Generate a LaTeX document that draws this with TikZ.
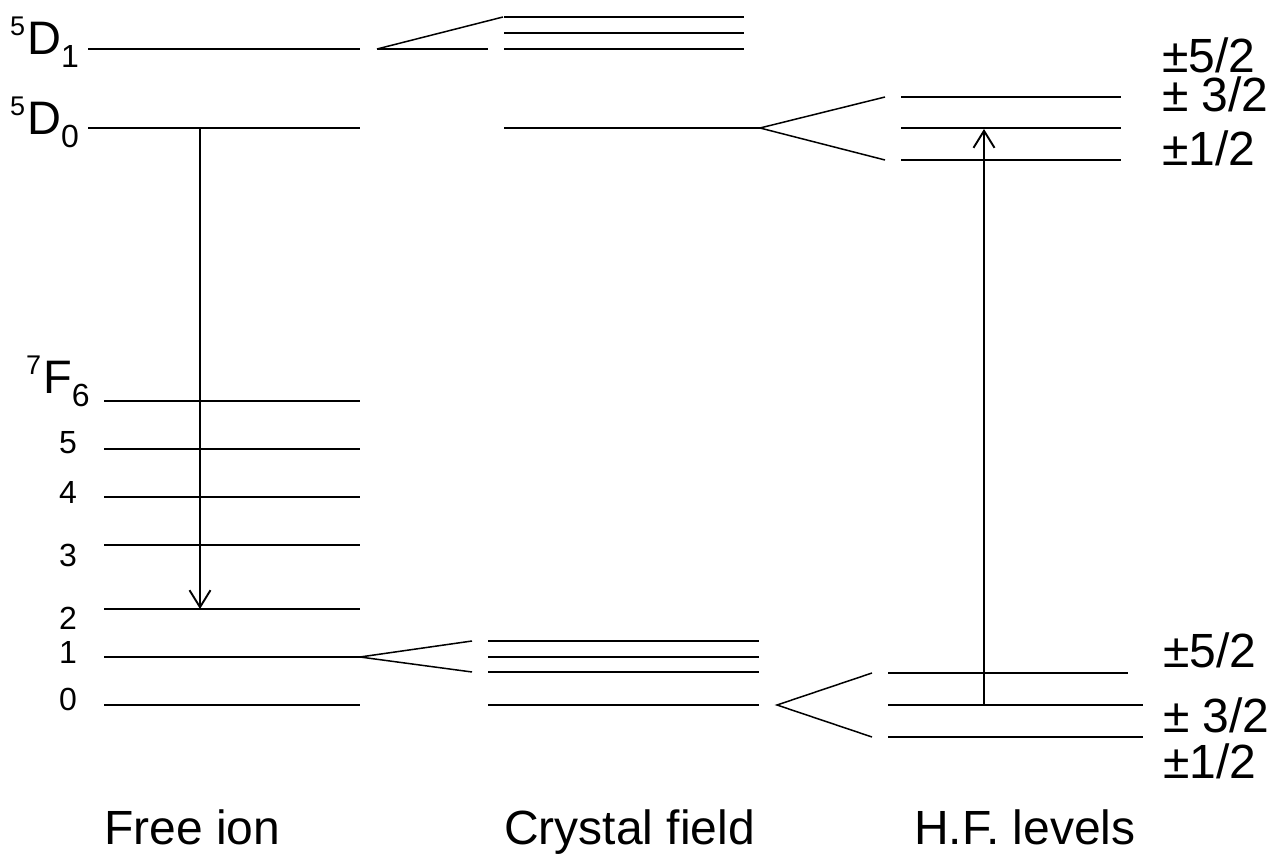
\documentclass[tikz,border=0pt]{standalone}
\usepackage{fontspec}
\setmainfont{Liberation Sans}
\usetikzlibrary{arrows.meta}
\newcommand{\termsym}[3]{\raisebox{19pt}{\fontsize{27}{27}\selectfont #1}\hspace{2pt}#2\raisebox{-13pt}{\fontsize{32}{32}\selectfont #3}}

\begin{document}
\begin{tikzpicture}[x=1pt,y=-1pt,
    level/.style={line width=1.9pt},
    split/.style={line width=1.5pt},
    trans/.style={line width=1.9pt,-{Straight Barb[length=17pt,width=21pt,line width=1.9pt]}},
    termLabel/.style={font=\fontsize{47}{48}\selectfont,inner sep=0pt,anchor=base west},
    jLabel/.style={font=\fontsize{32}{34}\selectfont,inner sep=0pt},
    mLabel/.style={font=\fontsize{48}{50}\selectfont,inner sep=0pt,anchor=base west},
    colLabel/.style={font=\fontsize{48}{50}\selectfont,inner sep=0pt,anchor=base west},
  ]
  \useasboundingbox (0,0) rectangle (1272,856);

  % free ion
  \coordinate (fiD1w) at (88,49);  \coordinate (fiD1e) at (360,49);
  \coordinate (fiD0w) at (88,128); \coordinate (fiD0e) at (360,128);
  \draw[level] (fiD1w) -- (fiD1e);
  \draw[level] (fiD0w) -- (fiD0e);
  \foreach \j/\y in {6/401,5/449,4/497,3/545,2/609,1/657,0/705} {
    \coordinate (fiF\j w) at (104,\y); \coordinate (fiF\j e) at (360,\y);
    \draw[level] (fiF\j w) -- (fiF\j e);
  }

  \node[termLabel] (lblD1) at (10,55) {\termsym{5}{D}{1}};
  \node[termLabel] (lblD0) at (10,135) {\termsym{5}{D}{0}};
  \node[termLabel] (lblF6) at (26,393) {\termsym{7}{F}{6}};
  \foreach \j/\y in {5/443,4/492,3/555,2/618,1/652,0/699}
    \node[jLabel] (lblF\j) at (68,\y) {\j};

  % crystal field
  \coordinate (cfD1fan) at (377,49);
  \coordinate (cfD1a) at (503,17); \coordinate (cfD1b) at (488,49);
  \draw[split] (cfD1fan) -- (cfD1a);
  \draw[level] (cfD1fan) -- (cfD1b);
  \foreach \i/\y in {1/17,2/33,3/49} {
    \coordinate (cfD1\i w) at (504,\y); \coordinate (cfD1\i e) at (744,\y);
    \draw[level] (cfD1\i w) -- (cfD1\i e);
  }
  \coordinate (cfD0w) at (504,128); \coordinate (cfD0e) at (760,128);
  \draw[level] (cfD0w) -- (cfD0e);

  \coordinate (cfF1a) at (472,641); \coordinate (cfF1b) at (472,672);
  \draw[split] (cfF1a) -- (fiF1e) -- (cfF1b);
  \foreach \i/\y in {1/641,2/657,3/672} {
    \coordinate (cfF1\i w) at (488,\y); \coordinate (cfF1\i e) at (759,\y);
    \draw[level] (cfF1\i w) -- (cfF1\i e);
  }
  \coordinate (cfF0w) at (488,705); \coordinate (cfF0e) at (759,705);
  \draw[level] (cfF0w) -- (cfF0e);

  % hyperfine levels
  \coordinate (hfD0a) at (885,97); \coordinate (hfD0b) at (885,160);
  \draw[split] (hfD0a) -- (cfD0e) -- (hfD0b);
  \foreach \i/\y in {5/97,3/128,1/160} {
    \coordinate (hfD0\i w) at (901,\y); \coordinate (hfD0\i e) at (1121,\y);
    \draw[level] (hfD0\i w) -- (hfD0\i e);
  }
  \coordinate (hfF0fan) at (777,705);
  \coordinate (hfF0a) at (872,673); \coordinate (hfF0b) at (872,737);
  \draw[split] (hfF0a) -- (hfF0fan) -- (hfF0b);
  \coordinate (hfF05w) at (888,673); \coordinate (hfF05e) at (1128,673);
  \coordinate (hfF03w) at (888,705); \coordinate (hfF03e) at (1143,705);
  \coordinate (hfF01w) at (888,737); \coordinate (hfF01e) at (1143,737);
  \draw[level] (hfF05w) -- (hfF05e);
  \draw[level] (hfF03w) -- (hfF03e);
  \draw[level] (hfF01w) -- (hfF01e);

  \node[mLabel] (mD05) at (1162,73) {±5/2};
  \node[mLabel] (mD03) at (1162,112) {± 3/2};
  \node[mLabel] (mD01) at (1162,165) {±1/2};
  \node[mLabel] (mF05) at (1163,667) {±5/2};
  \node[mLabel] (mF03) at (1163,732) {± 3/2};
  \node[mLabel] (mF01) at (1163,778) {±1/2};

  % transitions
  \coordinate (emitA) at (200,128); \coordinate (emitB) at (200,609);
  \coordinate (absA) at (984,705);  \coordinate (absB) at (984,129);
  \draw[trans] (emitA) -- (emitB);
  \draw[trans] (absA) -- (absB);

  \node[colLabel] (colFree) at (104,844) {Free ion};
  \node[colLabel] (colCF) at (504,844) {Crystal field};
  \node[colLabel] (colHF) at (914,844) {H.F. levels};
\end{tikzpicture}
\end{document}
